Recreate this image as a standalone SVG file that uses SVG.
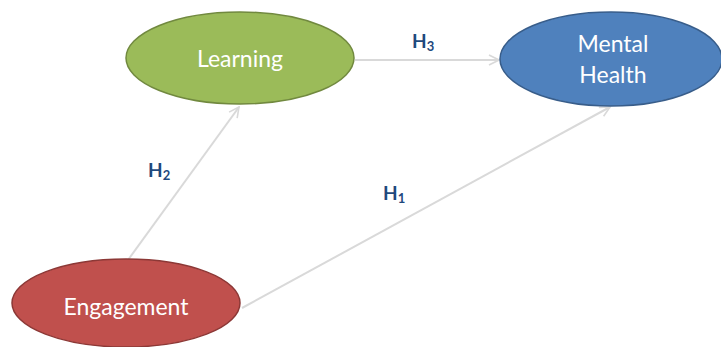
<svg xmlns="http://www.w3.org/2000/svg" width="721" height="347" viewBox="0 0 721 347">
<style>
.lbl{font-family:Lato,"Liberation Sans",sans-serif;fill:#fff;font-size:23px;text-anchor:middle}
.h{font-family:Lato,"Liberation Sans",sans-serif;fill:#1F497D;font-weight:bold;font-size:19px}
.sub{font-size:13px}
.con{stroke:#d9d9d9;stroke-width:2;fill:none;marker-end:url(#arr)}
</style>
<defs>
<marker id="arr" viewBox="0 0 12 12" refX="11" refY="6" markerWidth="12" markerHeight="12" markerUnits="userSpaceOnUse" orient="auto">
<path d="M1,1 L11,6 L1,11" fill="none" stroke="#d9d9d9" stroke-width="1.6"/>
</marker>
</defs>
<g id="connectors">
<line class="con" x1="355" y1="60" x2="499" y2="60"/>
<line class="con" x1="128" y1="260" x2="239" y2="107"/>
<line class="con" x1="242" y1="308" x2="610" y2="107"/>
<text class="h" x="412" y="48">H<tspan class="sub" dy="3">3</tspan></text>
<text class="h" x="148" y="177">H<tspan class="sub" dy="3">2</tspan></text>
<text class="h" x="383" y="200">H<tspan class="sub" dy="3">1</tspan></text>
</g>
<g id="learning">
<ellipse cx="240" cy="58" rx="114" ry="46" fill="#9BBB59" stroke="#71893F" stroke-width="1.5"/>
<text class="lbl" x="240" y="67">Learning</text>
</g>
<g id="mental-health">
<ellipse cx="611" cy="59" rx="111" ry="47" fill="#4F81BD" stroke="#385D8A" stroke-width="1.5"/>
<text class="lbl" x="613" y="52" font-size="24">Mental</text>
<text class="lbl" x="613" y="83" font-size="24">Health</text>
</g>
<g id="engagement">
<ellipse cx="126" cy="303" rx="114" ry="44" fill="#C0504D" stroke="#8C3836" stroke-width="1.5"/>
<text class="lbl" x="126" y="315">Engagement</text>
</g>
</svg>
